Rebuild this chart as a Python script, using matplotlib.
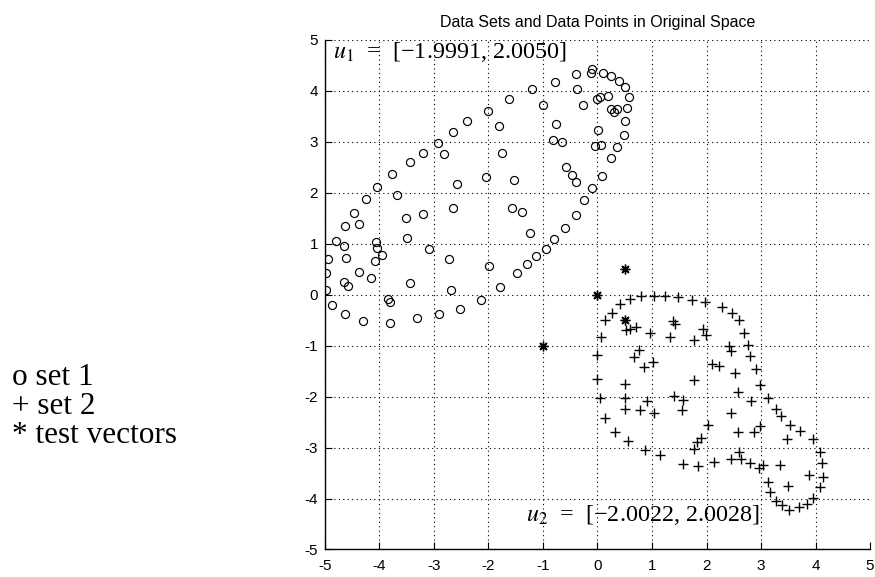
import matplotlib
matplotlib.use('Agg')
import matplotlib.pyplot as plt

# ---- data ----
set1_x = [-0.40, -0.37, -0.78, -1.21, -1.00, -1.62, -2.01, -1.81, -2.39, -2.66,
          -2.93, -2.82, -3.20, -3.44, -3.77, -4.05, -4.25, -4.46, -4.37, -4.64,
          -3.68, -3.51, -3.21, -2.66, -2.58, -2.04, -1.75, -1.53, -1.57, -1.38,
          -0.82, -0.66, -0.77, -0.58, -0.46, -0.40, -0.40, -0.59, -1.23, -0.10,
          -0.12, 0.11, 0.25, 0.39, 0.51, 0.57, 0.55, 0.51, 0.49, 0.36,
          0.25, 0.09, -0.10, -0.24, 0.00, 0.04, 0.20, 0.25, 0.30, 0.36,
          -0.27, 0.01, -0.05, 0.07, -0.79, -0.95, -1.12, -1.30, -1.48, -1.78,
          -1.99, -2.13, -2.52, -2.91, -3.31, -3.81, -4.30, -4.64, -4.88, -4.99,
          -4.99, -4.94, -4.79, -4.66, -4.62, -4.65, -4.57, -4.38, -4.16, -4.07,
          -4.05, -4.09, -3.95, -3.84, -3.81, -3.49, -3.44, -3.09, -2.72, -2.68]
set1_y = [4.33, 4.04, 4.17, 4.03, 3.73, 3.84, 3.61, 3.31, 3.41, 3.20,
          2.97, 2.76, 2.78, 2.61, 2.37, 2.11, 1.88, 1.60, 1.39, 1.34,
          1.95, 1.50, 1.59, 1.70, 2.18, 2.32, 2.78, 2.25, 1.71, 1.62,
          3.03, 2.99, 3.35, 2.50, 2.35, 2.21, 1.57, 1.31, 1.21, 4.43,
          4.35, 4.35, 4.29, 4.20, 4.08, 3.88, 3.67, 3.41, 3.14, 2.89,
          2.68, 2.33, 2.09, 1.85, 3.84, 3.89, 3.91, 3.65, 3.59, 3.65,
          3.73, 3.24, 2.91, 2.94, 1.09, 0.90, 0.76, 0.60, 0.43, 0.15,
          0.57, -0.11, -0.28, -0.37, -0.46, -0.56, -0.52, -0.37, -0.20, 0.10,
          0.43, 0.71, 1.06, 0.95, 0.73, 0.25, 0.18, 0.44, 0.32, 1.03,
          0.92, 0.67, 0.78, -0.08, -0.14, 1.12, 0.24, 0.90, 0.71, 0.10]

set2_x = [0.42, 0.59, 0.80, 1.04, 1.24, 1.48, 1.73, 1.97, 2.28, 2.47,
          2.59, 2.68, 2.77, 2.80, 2.91, 2.98, 3.12, 0.27, 0.13, 0.06,
          0.00, 0.00, 0.05, 0.50, 0.51, 0.52, 0.59, 0.70, 0.96, 1.33,
          1.38, 1.42, 1.77, 1.94, 1.99, 2.42, 2.45, 0.76, 0.67, 0.85,
          1.01, 2.10, 2.23, 2.52, 1.77, 2.57, 1.41, 0.51, 0.91, 0.78,
          1.04, 1.57, 1.55, 0.13, 0.32, 0.56, 0.87, 1.15, 1.57, 1.85,
          2.14, 2.45, 2.63, 2.80, 2.97, 3.04, 3.34, 2.60, 1.77, 1.83,
          1.90, 2.03, 2.45, 2.57, 2.88, 2.99, 2.82, 3.27, 3.37, 3.54,
          3.72, 3.47, 3.96, 4.09, 4.11, 4.14, 4.09, 3.88, 3.49, 3.12,
          3.17, 3.27, 3.39, 3.51, 3.69, 3.84, 3.96]
set2_y = [-0.18, -0.09, -0.03, -0.03, -0.03, -0.05, -0.10, -0.14, -0.24, -0.36,
          -0.50, -0.75, -0.99, -1.20, -1.46, -1.78, -2.02, -0.35, -0.50, -0.83,
          -1.18, -1.66, -2.02, -1.75, -2.02, -0.69, -0.67, -0.63, -0.75, -0.83,
          -0.52, -0.58, -0.88, -0.67, -0.80, -1.01, -1.11, -1.09, -1.22, -1.42,
          -1.32, -1.35, -1.39, -1.54, -1.68, -1.91, -1.99, -2.24, -2.09, -2.27,
          -2.32, -2.07, -2.27, -2.42, -2.69, -2.88, -3.05, -3.15, -3.33, -3.36,
          -3.29, -3.22, -3.22, -3.31, -3.40, -3.35, -3.35, -3.08, -3.02, -2.89,
          -2.81, -2.55, -2.32, -2.69, -2.69, -2.58, -2.09, -2.24, -2.38, -2.55,
          -2.67, -2.84, -2.84, -3.08, -3.31, -3.58, -3.78, -3.53, -3.75, -3.67,
          -3.87, -4.05, -4.13, -4.23, -4.16, -4.11, -3.98]

test_x = [0.0, 0.5, 0.5, -1.0]
test_y = [0.0, 0.5, -0.5, -1.0]

ticks = [-5, -4, -3, -2, -1, 0, 1, 2, 3, 4, 5]
title = 'Data Sets and Data Points in Original Space'
u1_label = '$u_1$  =  [\u22121.9991, 2.0050]'
u2_label = '$u_2$  =  [\u22122.0022, 2.0028]'
legend_lines = ['o set 1', '+ set 2', '* test vectors']

# ---- style ----
plt.rcParams['axes.unicode_minus'] = False
plt.rcParams['mathtext.fontset'] = 'stix'
plt.rcParams['font.family'] = ['Liberation Sans', 'DejaVu Sans']

fig = plt.figure(figsize=(8.75, 5.77), dpi=100)
ax = fig.add_axes([0.3714, 0.0477, 0.6229, 0.883])

ax.plot(set1_x, set1_y, linestyle='none', marker='o', mfc='none',
        mec='black', ms=5.8, mew=0.85)
ax.plot(set2_x, set2_y, linestyle='none', marker='+', color='black',
        ms=7.5, mew=1.0)
ax.plot(test_x, test_y, linestyle='none', marker=(8, 2, 0), color='black',
        ms=7, mew=1.0)

ax.set_xlim(-5, 5)
ax.set_ylim(-5, 5)
ax.set_xticks(ticks)
ax.set_yticks(ticks)
ax.set_xticklabels([str(t) for t in ticks])
ax.set_yticklabels([str(t) for t in ticks])
ax.grid(True, color='black', linestyle=(0, (1, 3)), linewidth=0.8)
for s in ['top', 'right']:
    ax.spines[s].set_visible(False)
for s in ['left', 'bottom']:
    ax.spines[s].set_linewidth(1.0)
ax.tick_params(direction='in', length=5, width=0.8, labelsize=11)
ax.tick_params(axis='x', pad=7)
ax.tick_params(axis='y', pad=5)
ax.set_title(title, fontsize=11.5, pad=9.5)

ax.text(-4.85, 4.76, u1_label, family='Liberation Serif', fontsize=17.4,
        va='center', ha='left')
ax.text(-1.32, -4.33, u2_label, family='Liberation Serif', fontsize=17.4,
        va='center', ha='left')

baselines = [0.3328, 0.2825, 0.2322]
for txt, yb in zip(legend_lines, baselines):
    fig.text(0.0137, yb, txt, family='Liberation Serif', fontsize=22.5,
             va='baseline', ha='left')

fig.savefig('out.png', dpi=100)
